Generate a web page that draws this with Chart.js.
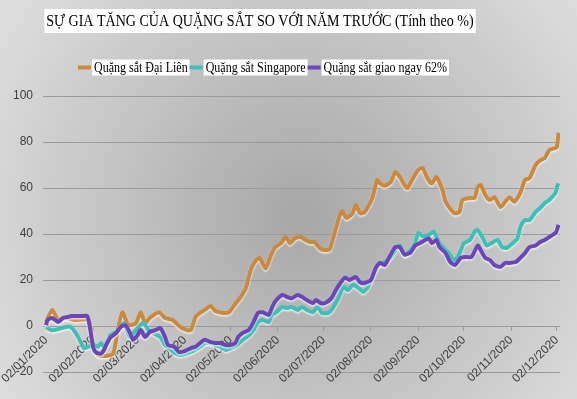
<!DOCTYPE html>
<html>
<head>
<meta charset="utf-8">
<script src="https://cdn.jsdelivr.net/npm/chart.js@4.4.1/dist/chart.umd.min.js"></script>
<style>
  html, body { margin: 0; padding: 0; }
  body { width: 577px; height: 399px; overflow: hidden; }
  canvas { display: block; }
</style>
</head>
<body>
<canvas id="ironChart" width="577" height="399"></canvas>
<script>
const chartTitle = 'SỰ GIA TĂNG CỦA QUẶNG SẮT SO VỚI NĂM TRƯỚC (Tính theo %)';
const seriesNames = ['Quặng sắt Đại Liên', 'Quặng sắt Singapore', 'Quặng sắt giao ngay 62%'];
const seriesColors = ['#c98a3d', '#3fbfb5', '#6a46b8'];

// x values are days counted from 02/01/2020
const monthDays = [0, 31, 60, 91, 121, 152, 182, 213, 244, 274, 305, 335];
const monthLabels = ['02/01/2020', '02/02/2020', '02/03/2020', '02/04/2020', '02/05/2020', '02/06/2020',
  '02/07/2020', '02/08/2020', '02/09/2020', '02/10/2020', '02/11/2020', '02/12/2020'];

const dalianDays = [0, 4, 8, 13, 19, 28, 30, 34, 39, 44, 47, 50, 54, 59, 62, 65, 68, 74, 78, 83, 88, 92, 95, 98,
  101, 104, 108, 111, 116, 120, 124, 127, 131, 134, 137, 140, 144, 147, 150, 154, 157, 160, 163, 167, 170, 173,
  176, 180, 183, 186, 189, 192, 194, 197, 201, 203, 206, 209, 214, 217, 219, 222, 226, 229, 232, 235, 237, 240,
  244, 247, 250, 253, 256, 260, 262, 265, 268, 271, 273, 278, 281, 283, 285, 288, 291, 294, 298, 301, 304, 307,
  311, 314, 317, 321, 324, 327, 330, 334, 335, 336];
const dalianValues = [1.7, 7, 2.6, 3.5, 2.6, 2.6, -6, -12.6, -13, -12, -1.7, 6, 0.4, 1.3, 6, 1.3, 3.5, 6, 3.5, 2.6,
  -0.4, -1.7, -1.7, 3.9, 5.7, 7, 8.7, 6.5, 5.7, 6, 9.6, 12, 16.5, 24, 28, 29.6, 25, 30, 34, 36, 38.7, 36, 38, 38.7,
  37.4, 36.5, 36.5, 33.5, 33, 33.5, 40, 47, 50, 47, 49, 52.6, 49, 49.6, 55.7, 63.5, 62, 61, 62.6, 67, 64.8, 61.3,
  60, 63.5, 67.8, 68.7, 64.3, 62, 64.8, 59, 54, 51, 49, 49.6, 54.8, 55.7, 55.7, 60.4, 61.3, 57, 54.8, 56, 51.7,
  54, 56, 54, 58, 63.5, 64.3, 70, 72, 73, 76.5, 77.4, 78, 84];

const singaporeDays = [0, 3, 6, 13, 16, 18, 21, 23, 25, 28, 31, 34, 36, 38, 41, 42, 46, 49, 51, 53, 55, 59, 62, 64,
  67, 70, 75, 78, 82, 85, 88, 95, 101, 104, 108, 111, 114, 118, 121, 125, 129, 133, 136, 139, 142, 146, 148, 151,
  155, 158, 161, 165, 168, 171, 175, 178, 181, 185, 188, 192, 195, 198, 201, 205, 208, 211, 215, 218, 222, 226,
  232, 235, 239, 242, 244, 247, 251, 254, 256, 258, 262, 265, 267, 270, 272, 274, 278, 281, 283, 286, 289, 292,
  296, 299, 302, 306, 309, 311, 314, 317, 321, 324, 327, 330, 334, 335, 336];
const singaporeValues = [-0.4, -1.7, -1.7, -0.4, -0.4, -1.7, -4.8, -7.4, -9.6, -9, -8.3, -9, -7.4, -9, -7, -4,
  -2.6, -0.4, 1.3, -1.7, -4.8, -1.7, 0.4, 1.3, -1.7, -3, -4.8, -8.3, -10.4, -12, -12.6, -11.3, -9, -7.4, -7.4,
  -8.3, -9, -10.4, -9.6, -8.3, -6, -4, -1.7, 1.7, 2.6, 1.7, 4.8, 6, 8.3, 7.8, 8.3, 7, 8.3, 7, 6, 8.3, 5.7, 5.7,
  7.8, 12.6, 17, 15.6, 17.8, 16.5, 14.8, 17, 23, 26.5, 27.8, 30, 35, 31, 33, 36, 40.4, 39, 39.6, 41, 38.7, 36, 33,
  30.9, 28.7, 30, 33, 36, 37.4, 41, 41.7, 38.7, 35, 36, 37.4, 34.3, 34, 36, 38, 43, 46, 46, 49.6, 51.3, 53.5, 54.8,
  57.8, 60.4, 62];

const spotDays = [0, 1, 4, 8, 11, 14, 17, 23, 27, 29, 31, 33, 36, 38, 40, 42, 46, 49, 52, 55, 57, 60, 62, 65, 68,
  72, 75, 78, 80, 84, 87, 91, 95, 98, 101, 104, 108, 111, 114, 118, 121, 124, 126, 129, 133, 136, 139, 142, 146,
  148, 150, 155, 158, 161, 165, 168, 171, 175, 177, 180, 183, 187, 190, 193, 196, 199, 203, 206, 209, 213, 216,
  219, 222, 226, 229, 232, 235, 239, 242, 245, 251, 253, 256, 258, 262, 265, 268, 272, 275, 279, 283, 285, 288,
  291, 294, 298, 301, 304, 308, 311, 314, 317, 321, 324, 327, 330, 334, 335, 336];
const spotValues = [0.4, 2.6, 3.5, 1.7, 3.5, 3.9, 4.3, 4.3, 4.3, -1.7, -9.6, -11.7, -12, -10.4, -7.4, -5.2, -3,
  -0.4, 0.4, -3, -6, -4, -1.7, -4.8, -2.6, -1.7, -0.9, -4.8, -8.3, -9, -11.3, -10.9, -9.6, -9, -7.4, -6, -7, -7.4,
  -7.4, -8.3, -8.3, -7.4, -4.8, -3, -1.7, 1.7, 5.7, 6, 4.8, 7.8, 10.4, 13.5, 12.6, 12, 13.5, 12.6, 11.3, 10, 11.3,
  10, 10, 12, 15.6, 18.7, 21, 20, 21.3, 19, 18.7, 20, 25, 27.4, 26.5, 31, 34.3, 34.3, 31, 32, 35, 36, 38, 36, 37.4,
  34.3, 31.7, 27.8, 26.5, 29.6, 30, 30, 35, 33, 29.6, 28.7, 26.5, 25.7, 27.4, 27.4, 27.8, 29.6, 31.7, 34.3, 35,
  36.5, 37.4, 38.7, 40.4, 41.7, 44];

const seriesDays = [dalianDays, singaporeDays, spotDays];
const seriesValues = [dalianValues, singaporeValues, spotValues];

// the reference text is tall but narrow, so squeeze it horizontally
function squeezedText(ctx, text, x, y, sx) {
  ctx.save();
  ctx.translate(x, y);
  ctx.scale(sx, 1);
  ctx.fillText(text, 0, 0);
  ctx.restore();
}

// background, title box and legend, drawn under the chart layers
const frame = {
  id: 'frame',
  beforeDraw(chart) {
    const { ctx, width, height } = chart;
    ctx.save();
    const g = ctx.createRadialGradient(300, 215, 10, 300, 215, 340);
    g.addColorStop(0, '#a8a8a8');
    g.addColorStop(1, '#dbdbdb');
    ctx.fillStyle = g;
    ctx.fillRect(0, 0, width, height);

    ctx.textBaseline = 'middle';
    ctx.textAlign = 'left';
    ctx.font = '17px "Liberation Serif"';
    const titleScale = 0.826;
    const tw = ctx.measureText(chartTitle).width * titleScale;
    const cx = 260;
    ctx.fillStyle = '#ffffff';
    ctx.fillRect(cx - tw / 2 - 2, 9, tw + 4, 24);
    ctx.fillStyle = '#000000';
    squeezedText(ctx, chartTitle, cx - tw / 2, 21.5, titleScale);

    ctx.font = '15px "Liberation Serif"';
    const legendScale = 0.8;
    let x = 78;
    const ly = 67.5;
    seriesNames.forEach((name, i) => {
      ctx.strokeStyle = seriesColors[i];
      ctx.lineWidth = 4;
      ctx.beginPath();
      ctx.moveTo(x, ly);
      ctx.lineTo(x + 13, ly);
      ctx.stroke();
      x += 14;
      const w = ctx.measureText(name).width * legendScale;
      ctx.fillStyle = '#ffffff';
      ctx.fillRect(x, ly - 8, w + 4, 16);
      ctx.fillStyle = '#000000';
      squeezedText(ctx, name, x + 2, ly + 0.5, legendScale);
      x += w + 4;
    });
    ctx.restore();
  },
  beforeDatasetDraw(chart) {
    const ctx = chart.ctx;
    ctx.save();
    ctx.shadowColor = 'rgba(255,255,255,0.75)';
    ctx.shadowBlur = 2;
    ctx.shadowOffsetY = 1.5;
  },
  afterDatasetDraw(chart) {
    chart.ctx.restore();
  }
};

const ctx = document.getElementById('ironChart').getContext('2d');

new Chart(ctx, {
  type: 'line',
  data: {
    datasets: seriesNames.map((name, i) => ({
      label: name,
      data: seriesDays[i].map((d, j) => ({ x: d, y: seriesValues[i][j] })),
      borderColor: seriesColors[i],
      borderWidth: 4,
      pointRadius: 0,
      tension: 0.2,
      fill: false,
      order: 3 - i
    }))
  },
  options: {
    responsive: false,
    animation: false,
    layout: { padding: { top: 96, right: 17, bottom: 27, left: 3 } },
    plugins: {
      legend: { display: false },
      title: { display: false },
      tooltip: { enabled: false }
    },
    scales: {
      x: {
        type: 'linear',
        min: -2,
        max: 337,
        position: { y: 0 },
        afterBuildTicks: (scale) => { scale.ticks = monthDays.map(v => ({ value: v })); },
        // let the first rotated label hang over the left edge like the original
        afterFit: (scale) => { scale.paddingLeft = 0; scale.paddingRight = 0; },
        ticks: {
          autoSkip: false,
          minRotation: 45,
          maxRotation: 45,
          padding: 2,
          color: '#404040',
          font: { family: '"Liberation Sans"', size: 12 },
          callback: (v) => monthLabels[monthDays.indexOf(v)] || ''
        },
        grid: { drawOnChartArea: false, drawTicks: true, tickLength: 5, color: '#9a9a9a' },
        border: { display: false }
      },
      y: {
        min: -20,
        max: 100,
        ticks: {
          stepSize: 20,
          padding: 10,
          color: '#404040',
          font: { family: '"Liberation Sans"', size: 12 }
        },
        grid: { color: '#9a9a9a', drawTicks: false },
        border: { display: false }
      }
    }
  },
  plugins: [frame]
});
</script>
</body>
</html>
